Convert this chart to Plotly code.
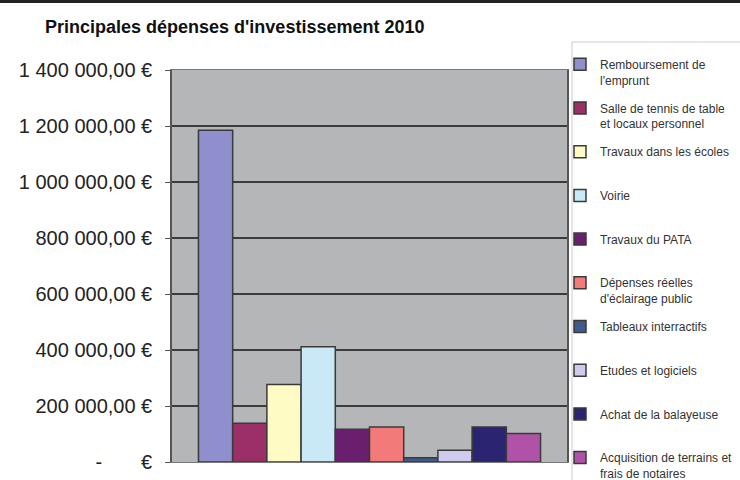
import plotly.graph_objects as go

title = "Principales dépenses d'investissement 2010"
categories = [
    "Remboursement de<br>l'emprunt",
    "Salle de tennis de table<br>et locaux personnel",
    "Travaux dans les écoles<br> ",
    "Voirie<br> ",
    "Travaux du PATA<br> ",
    "Dépenses réelles<br>d'éclairage public",
    "Tableaux interractifs<br> ",
    "Etudes et logiciels<br> ",
    "Achat de la balayeuse<br> ",
    "Acquisition de terrains et<br>frais de notaires",
]
values = [1185000, 138000, 277000, 412000, 117000, 125000, 15000, 42000, 125000, 102000]
colors = ["#8E8FCC", "#9B3068", "#FFFBC4", "#C9E9F6", "#6A1E6E", "#F27A78",
          "#3F5A8C", "#CFCBEF", "#2B2470", "#B052A8"]
tick_vals = [0, 200000, 400000, 600000, 800000, 1000000, 1200000, 1400000]
tick_text = ["-" + "\u00a0" * 7 + "€", "200 000,00 €", "400 000,00 €", "600 000,00 €",
             "800 000,00 €", "1 000 000,00 €", "1 200 000,00 €", "1 400 000,00 €"]

fig = go.Figure()
for name, v, c in zip(categories, values, colors):
    fig.add_trace(go.Bar(
        x=[""], y=[v], name=name, legendgroup=name,
        marker=dict(color=c, line=dict(color="#3A3A3A", width=1.5)),
    ))

PW, PH, PL, PB = 395, 392, 172, 462  # plot width/height, left px, bottom px


def px_x(p):
    return (p - PL) / PW


def px_y(p):
    return (PB - p) / PH


fig.update_layout(
    width=740, height=480,
    margin=dict(l=172, r=173, t=70, b=18, autoexpand=False),
    paper_bgcolor="white",
    plot_bgcolor="#B4B6B8",
    barmode="group", bargap=0.134, bargroupgap=0,
    title=dict(text="<b>" + title + "</b>", x=45 / 740, xanchor="left",
               xref="container", yref="container", y=1 - 27 / 480, yanchor="middle",
               font=dict(family="Liberation Sans", size=18, color="#111111")),
    font=dict(family="Liberation Sans", color="#222222"),
    showlegend=True,
    legend=dict(
        x=px_x(560), xanchor="left", y=px_y(50), yanchor="top",
        bgcolor="rgba(0,0,0,0)", borderwidth=0,
        font=dict(family="Liberation Sans", size=12, color="#333333"),
        valign="top", tracegroupgap=9.5, itemwidth=30, maxheight=460,
    ),
    xaxis=dict(showticklabels=False, ticks="", showline=True, linecolor="#777777",
               linewidth=1, mirror=True, showgrid=False, automargin=False),
    yaxis=dict(range=[0, 1400000], tickvals=tick_vals, ticktext=tick_text,
               ticks="outside", ticklen=5, tickcolor="#555555",
               ticklabelstandoff=9, automargin=False,
               tickfont=dict(family="Liberation Sans", size=20, color="#222222"),
               showline=True, linecolor="#555555", linewidth=1.5, mirror=True,
               showgrid=True, gridcolor="#3C3C3C", gridwidth=2, zeroline=False),
    shapes=[
        dict(type="line", xref="paper", yref="paper",
             x0=px_x(0), x1=px_x(740), y0=px_y(1.5), y1=px_y(1.5),
             line=dict(color="#222222", width=3)),
        dict(type="rect", xref="paper", yref="paper", layer="below",
             x0=px_x(572), x1=px_x(745), y0=px_y(42), y1=px_y(485),
             fillcolor="white", line=dict(color="#CCCCCC", width=1)),
    ],
)

fig.write_html("out.html", config={"displayModeBar": False},
               post_script="document.body.style.margin='0';")
